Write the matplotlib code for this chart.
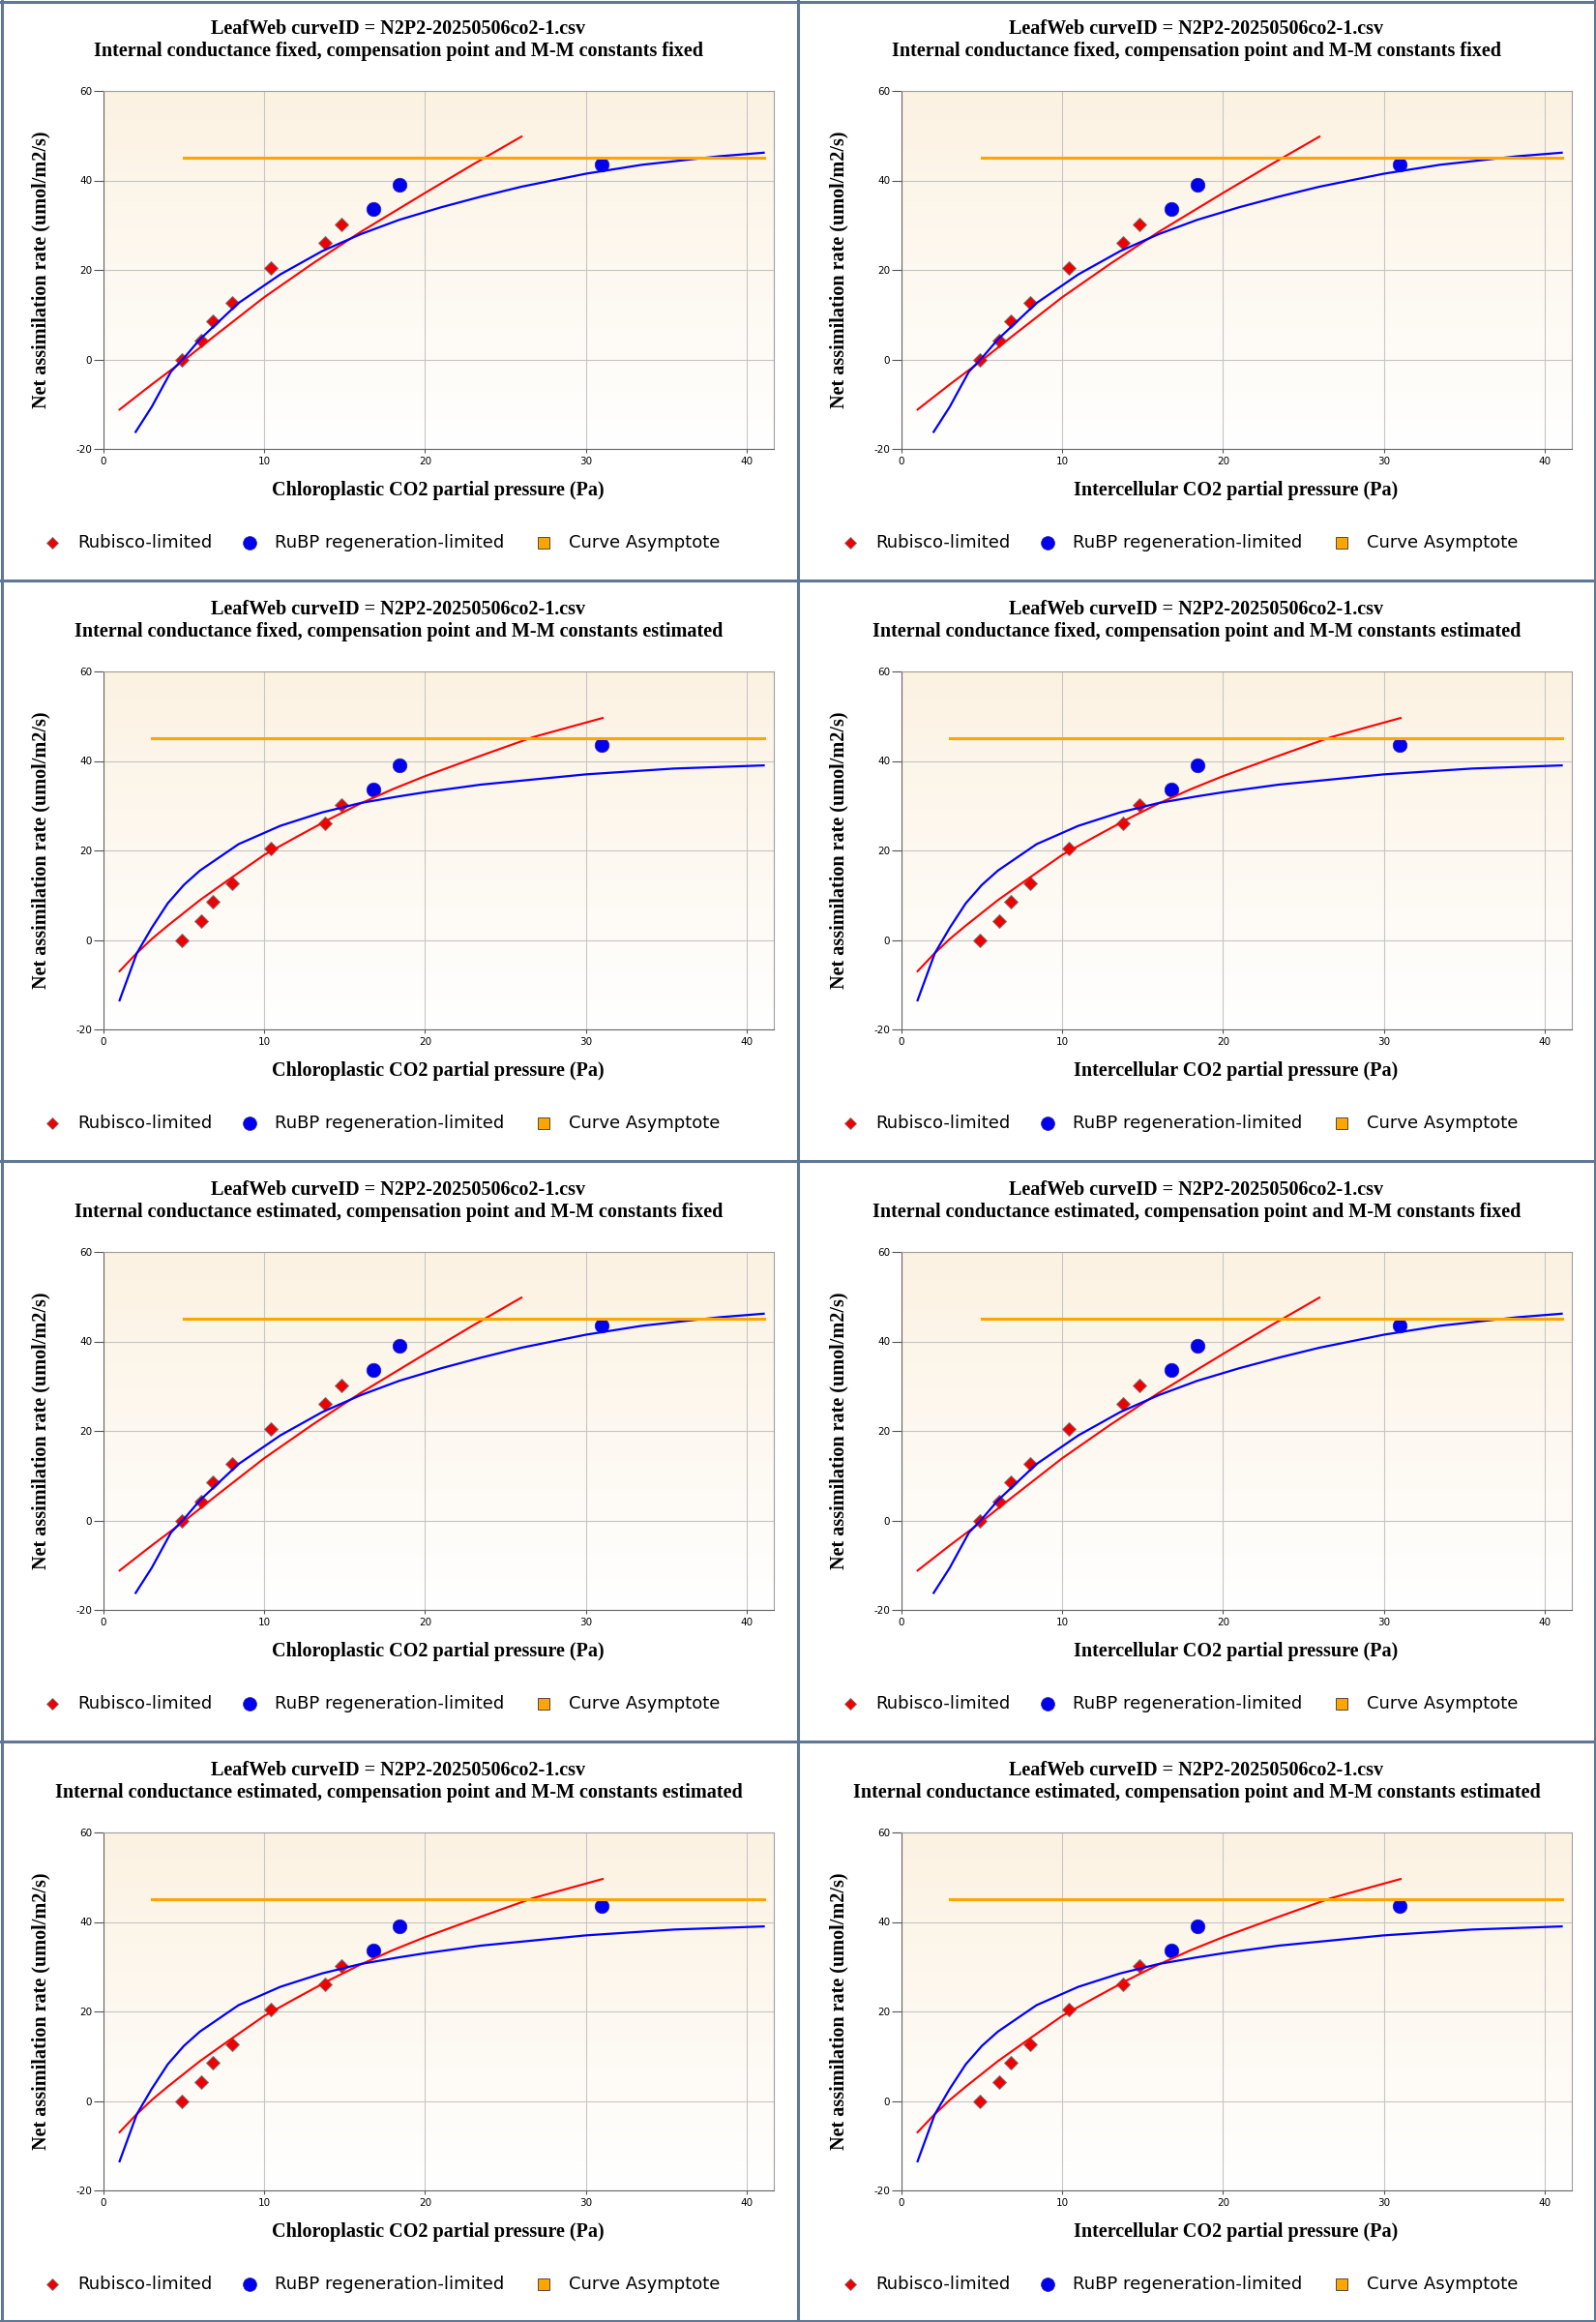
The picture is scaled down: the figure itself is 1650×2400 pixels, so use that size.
import numpy as np
import matplotlib
matplotlib.use("Agg")
import matplotlib.pyplot as plt
from matplotlib.colors import LinearSegmentedColormap
from matplotlib.lines import Line2D

plt.rcParams['axes.unicode_minus'] = False
plt.rcParams['font.family'] = ['DejaVu Sans']

# --- data ---
curve_id = "N2P2-20250506co2-1.csv"
gm_modes = ["fixed", "fixed", "estimated", "estimated"]
kinetic_modes = ["fixed", "estimated", "fixed", "estimated"]
x_labels = ["Chloroplastic CO2 partial pressure (Pa)",
            "Intercellular CO2 partial pressure (Pa)"]
legend_labels = ["Rubisco-limited", "RuBP regeneration-limited", "Curve Asymptote"]
x_ticks = [0, 10, 20, 30, 40]
y_ticks = [-20, 0, 20, 40, 60]

rubisco_x = [4.9, 6.1, 6.8, 8.0, 10.4, 13.8, 14.8]
rubisco_y = [-0.2, 4.2, 8.5, 12.7, 20.4, 26.0, 30.2]
rubp_x = [16.8, 18.4, 31.0]
rubp_y = [33.6, 39.0, 43.6]
asymptote = 45.0

# fitted curves, compensation point / M-M constants fixed
fixed_rub_x = [1, 3, 5, 7, 10, 13, 16, 20, 23, 26]
fixed_rub_y = [-11.2, -5.6, -0.2, 5.5, 13.9, 21.4, 28.5, 37.2, 43.6, 49.8]
fixed_rubp_x = [2, 3, 4.2, 5, 6, 8.4, 11, 13.6, 16, 18.4, 21, 23.5, 26, 30, 33.5, 38.3, 41.07]
fixed_rubp_y = [-16.2, -10.6, -2.7, 0.3, 4.5, 12.6, 19.0, 24.2, 28.0, 31.2, 34.0, 36.4,
                38.6, 41.5, 43.5, 45.4, 46.2]
fixed_asym_x = [5.0, 41.07]

# fitted curves, compensation point / M-M constants estimated
est_rub_x = [1, 2, 3, 4, 6, 8, 10, 12, 14, 16, 18, 20, 23.5, 26.7, 31.05]
est_rub_y = [-7.0, -3.2, 0.2, 3.2, 8.9, 14.0, 19.0, 23.0, 26.9, 30.5, 33.7, 36.6, 41.2, 45.3, 49.6]
est_rubp_x = [1, 2.07, 3, 4, 5, 6, 8.4, 11, 13.6, 16, 18.4, 20, 23.45, 30, 35.5, 41.07]
est_rubp_y = [-13.5, -3.0, 2.7, 8.2, 12.3, 15.5, 21.4, 25.5, 28.5, 30.6, 32.1, 33.0, 34.7,
              37.0, 38.3, 39.0]
est_asym_x = [3.0, 41.07]

W, H = 1650, 2400
PW, PH = 825, 600
fig = plt.figure(figsize=(W / 100, H / 100), dpi=100)
fig.patch.set_facecolor('white')


def fx(px):
    return px / W


def fy(py):
    return 1 - py / H


bg_cmap = LinearSegmentedColormap.from_list("bg", ["#fcf2e2", "#ffffff"])
serif = ['Liberation Serif', 'DejaVu Serif']

for r in range(4):
    for c in range(2):
        ox, oy = c * PW, r * PH
        ax = fig.add_axes([fx(ox + 107), fy(oy + 464), 693 / W, 370 / H])
        ax.set_xlim(0, 41.7)
        ax.set_ylim(-20, 60)
        ax.imshow(np.linspace(0, 1, 256).reshape(-1, 1), cmap=bg_cmap, aspect='auto',
                  extent=(0, 41.7, -20, 60), origin='upper', zorder=0)
        ax.set_axisbelow(True)
        ax.grid(True, color='#c6c6c6', lw=0.8)
        ax.set_xticks(x_ticks)
        ax.set_yticks(y_ticks)
        for s in ax.spines.values():
            s.set_color('#a0a0a0')
            s.set_linewidth(0.8)
        ax.spines['left'].set_color('#666666')
        ax.spines['bottom'].set_color('#666666')
        ax.tick_params(axis='y', length=7, width=0.8, color='#555555', pad=1.5, labelsize=7.5)
        ax.tick_params(axis='x', length=3, width=0.8, color='#555555', pad=3, labelsize=7.5)

        if kinetic_modes[r] == "fixed":
            rx, ry, bx, by, ax_x = fixed_rub_x, fixed_rub_y, fixed_rubp_x, fixed_rubp_y, fixed_asym_x
        else:
            rx, ry, bx, by, ax_x = est_rub_x, est_rub_y, est_rubp_x, est_rubp_y, est_asym_x

        ax.plot(rubisco_x, rubisco_y, ls='none', marker='D', ms=7.4, mfc='#ee0000',
                mec='#777777', mew=0.7, zorder=2)
        ax.plot(rubp_x, rubp_y, ls='none', marker='o', ms=10.5, mfc='#0000ee',
                mec='#2a2aa0', mew=0.5, zorder=2)
        ax.plot(rx, ry, color='#ff0000', lw=1.5, zorder=3)
        ax.plot(bx, by, color='#0000ff', lw=1.6, zorder=3)
        ax.plot(ax_x, [asymptote, asymptote], color='#ffa500', lw=2.2, zorder=4)

        # titles and axis labels
        fig.text(fx(ox + 412), fy(oy + 30), "LeafWeb curveID = " + curve_id,
                 ha='center', va='center', family=serif, weight='bold', size=14.5)
        sub = ("Internal conductance %s, compensation point and M-M constants %s"
               % (gm_modes[r], kinetic_modes[r]))
        fig.text(fx(ox + 412), fy(oy + 53), sub, ha='center', va='center',
                 family=serif, weight='bold', size=14.5)
        fig.text(fx(ox + 42), fy(oy + 279), "Net assimilation rate (umol/m2/s)",
                 ha='center', va='center', rotation=90, family=serif, weight='bold', size=14.5)
        fig.text(fx(ox + 453), fy(oy + 507), x_labels[c], ha='center', va='center',
                 family=serif, weight='bold', size=14.5)

        # legend row
        ly = fy(oy + 561)
        fig.add_artist(Line2D([fx(ox + 54)], [ly], marker='D', ms=6, mfc='#ee0000',
                              mec='#777777', mew=0.6, ls='none', transform=fig.transFigure))
        fig.add_artist(Line2D([fx(ox + 258)], [ly], marker='o', ms=10, mfc='#0000ee',
                              mec='#2a2aa0', mew=0.5, ls='none', transform=fig.transFigure))
        fig.add_artist(Line2D([fx(ox + 562)], [ly], marker='s', ms=8.5, mfc='#ffa500',
                              mec='#333333', mew=0.6, ls='none', transform=fig.transFigure))
        for tx, lab in zip([80, 284, 588], legend_labels):
            fig.text(fx(ox + tx), ly, lab, ha='left', va='center', size=13)

# panel frames
frame_col = '#5f7795'
for xv in [1.5, 824.5, 1648.5]:
    fig.add_artist(Line2D([fx(xv), fx(xv)], [0, 1], color=frame_col, lw=2.2,
                          transform=fig.transFigure))
for yv in [1.5, 600, 1200, 1800, 2398.5]:
    fig.add_artist(Line2D([0, 1], [fy(yv), fy(yv)], color=frame_col, lw=2.2,
                          transform=fig.transFigure))

fig.savefig("out.png", dpi=100)
